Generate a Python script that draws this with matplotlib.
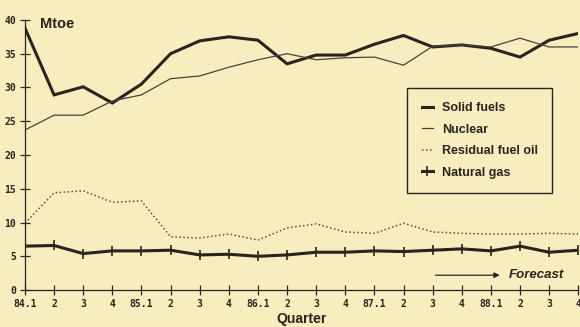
import matplotlib
matplotlib.use("Agg")
import matplotlib.pyplot as plt
import numpy as np

# Quarterly energy consumption, Mtoe
QUARTERS = ["84.1", "2", "3", "4", "85.1", "2", "3", "4", "86.1", "2", "3", "4",
            "87.1", "2", "3", "4", "88.1", "2", "3", "4"]
SOLID = [38.8, 28.9, 30.1, 27.7, 30.5, 35.0, 36.9, 37.5, 37.0, 33.5,
         34.8, 34.8, 36.4, 37.7, 36.0, 36.3, 35.8, 34.5, 37.0, 38.0]
NUCLEAR = [23.7, 25.9, 25.9, 28.0, 28.9, 31.3, 31.7, 33.0, 34.1, 35.0,
           34.1, 34.4, 34.5, 33.3, 36.1, 36.3, 36.0, 37.3, 36.0, 36.0]
RESID = [9.9, 14.4, 14.7, 13.0, 13.2, 7.9, 7.7, 8.3, 7.4, 9.2,
         9.8, 8.6, 8.4, 9.9, 8.6, 8.4, 8.3, 8.3, 8.4, 8.3]
GAS = [6.5, 6.6, 5.4, 5.8, 5.8, 5.9, 5.2, 5.3, 5.0, 5.2,
       5.6, 5.6, 5.8, 5.7, 5.9, 6.1, 5.8, 6.5, 5.6, 5.9]
FORECAST_START, FORECAST_END, FORECAST_Y = 14, 16.4, 2.2

BG = "#f8edbe"
INK = "#2a2420"
FONT = ["Liberation Sans Narrow", "Liberation Sans", "DejaVu Sans"]

fig = plt.figure(figsize=(5.8, 3.27), dpi=100, facecolor=BG)
ax = fig.add_axes([0.043, 0.113, 0.954, 0.826], facecolor=BG)
x = np.arange(len(QUARTERS))

ax.plot(x, SOLID, color=INK, lw=2.2, label="Solid fuels", solid_joinstyle="miter")
ax.plot(x, NUCLEAR, color="#4a423a", lw=0.9, label="Nuclear")
ax.plot(x, RESID, color="#6a4a3c", lw=1.1, ls=(0, (1, 1.6)), label="Residual fuel oil")
ax.plot(x, GAS, color=INK, lw=2.2, marker="|", ms=7, mew=1.2, label="Natural gas")

ax.set_xlim(0, len(QUARTERS) - 1)
ax.set_ylim(0, 40)
ax.set_xticks(x)
ax.set_xticklabels(QUARTERS)
ax.set_yticks(range(0, 41, 5))
ax.tick_params(direction="inout", length=7, width=0.9, colors=INK,
               labelsize=7, pad=3)
for lab in ax.get_xticklabels() + ax.get_yticklabels():
    lab.set_family("DejaVu Sans Mono")
    lab.set_fontweight("bold")
for s in ("top", "right"):
    ax.spines[s].set_visible(False)
for s in ("left", "bottom"):
    ax.spines[s].set_color(INK)
    ax.spines[s].set_linewidth(0.9)

ax.text(0.5, 39.4, "Mtoe", family=FONT, fontsize=10.5, fontweight="bold",
        color=INK, va="center", ha="left")
ax.set_xlabel("Quarter", family=FONT, fontsize=10, fontweight="bold",
              color=INK, labelpad=2)

ax.annotate("", xy=(FORECAST_END, FORECAST_Y), xytext=(FORECAST_START, FORECAST_Y),
            arrowprops=dict(arrowstyle="-|>", color=INK, lw=0.9,
                            mutation_scale=8))
ax.text(FORECAST_END + 0.2, FORECAST_Y + 0.1, "Forecast", family=FONT,
        fontsize=9.5, fontstyle="italic", fontweight="bold", color=INK,
        va="center", ha="left")

leg = ax.legend(loc="upper left", bbox_to_anchor=(0.691, 0.748), frameon=True,
                fancybox=False, handlelength=0.9, handletextpad=0.7,
                borderpad=1.15, labelspacing=0.75, borderaxespad=0,
                prop=dict(family=FONT, size=9, weight="bold"))
leg.get_frame().set_edgecolor(INK)
leg.get_frame().set_facecolor(BG)
leg.get_frame().set_linewidth(1.0)
leg.get_frame().set_alpha(1)
for t in leg.get_texts():
    t.set_color(INK)

fig.savefig("out.png", dpi=100, facecolor=BG)
